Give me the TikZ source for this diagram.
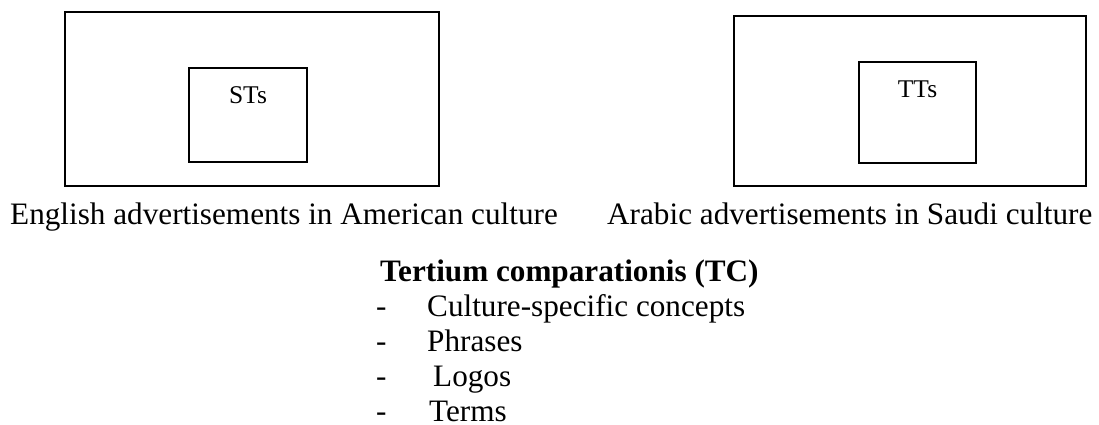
\documentclass[tikz,border=0pt]{standalone}
\usepackage{fontspec}
\setmainfont{Liberation Serif}
\begin{document}
\begin{tikzpicture}[x=1pt,y=-1pt,
  box/.style={draw=black,line width=1.8pt,fill=none,inner sep=0pt},
  txt/.style={anchor=base west,inner sep=0pt,font=\fontsize{31.2}{36}\selectfont},
  boxtxt/.style={anchor=base,inner sep=0pt,font=\fontsize{25.5}{30}\selectfont}]
\useasboundingbox (0,0) rectangle (1099,425);
% left group
\node[box,minimum width=374pt,minimum height=174pt] (outerL) at (252,99) {};
\node[box,minimum width=118pt,minimum height=94pt] (innerL) at (248,115) {};
\node[boxtxt] (sts) at (248,103) {STs};
% right group
\node[box,minimum width=352pt,minimum height=170pt] (outerR) at (910,101) {};
\node[box,minimum width=117pt,minimum height=101pt] (innerR) at (917.5,112.5) {};
\node[boxtxt] (tts) at (917.5,98) {TTs};
% captions
\node[txt] (capL) at (10,224) {English advertisements in American culture};
\node[txt] (capR) at (607,224) {Arabic advertisements in Saudi culture};
% tertium comparationis
\node[txt,font=\fontsize{31.2}{36}\selectfont\bfseries] (title) at (380,281) {Tertium comparationis (TC)};
\node[txt] (d1) at (376,316) {-};
\node[txt] (i1) at (427,316) {Culture-specific concepts};
\node[txt] (d2) at (376,351) {-};
\node[txt] (i2) at (427,351) {Phrases};
\node[txt] (d3) at (376,386) {-};
\node[txt] (i3) at (433,386) {Logos};
\node[txt] (d4) at (376,421) {-};
\node[txt] (i4) at (429,421) {Terms};
\end{tikzpicture}
\end{document}
